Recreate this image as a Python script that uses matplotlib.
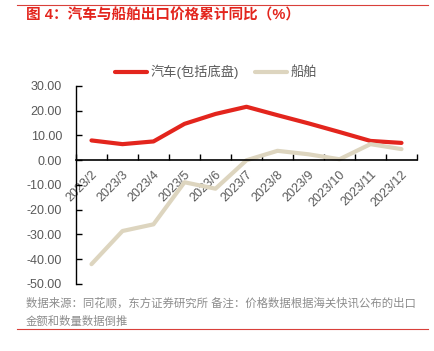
import matplotlib.pyplot as plt
from matplotlib.lines import Line2D

plt.rcParams['font.family'] = ['Liberation Sans', 'Noto Sans CJK SC']
plt.rcParams['axes.unicode_minus'] = False

months = ['2023/2', '2023/3', '2023/4', '2023/5', '2023/6', '2023/7',
          '2023/8', '2023/9', '2023/10', '2023/11', '2023/12']
cars = [8.0, 6.5, 7.6, 14.7, 18.7, 21.6, 18.2, 14.9, 11.4, 7.8, 7.0]
ships = [-42.0, -28.6, -25.9, -8.9, -11.5, 0.0, 3.8, 2.4, 0.4, 6.5, 4.5]
yticks = [30, 20, 10, 0, -10, -20, -30, -40, -50]

red = '#E3251D'
beige = '#DDD5BF'
gray = '#595959'

fig = plt.figure(figsize=(4.35, 3.51), dpi=100)
ax = fig.add_axes([0.1747, 0.191, 0.9586 - 0.1747, 0.755 - 0.191])

# spines first: moving the spine resets the ticks
ax.spines['top'].set_visible(False)
ax.spines['right'].set_visible(False)
ax.spines['left'].set_linewidth(1)
ax.spines['bottom'].set_position(('data', 0))
ax.spines['bottom'].set_linewidth(1.2)
ax.patch.set_visible(False)

x = list(range(len(months)))
ax.plot(x, cars, color=red, linewidth=3, label='汽车(包括底盘)', solid_capstyle='round')
ax.plot(x, ships, color=beige, linewidth=3, label='船舶', solid_capstyle='round')

ax.set_xlim(-0.5, len(months) - 0.5)
ax.set_ylim(-50, 30)
ax.set_yticks(yticks)
ax.set_yticklabels(['%.2f' % v for v in yticks], fontsize=9, color=gray)

# labels at category centres, tick marks on the boundaries
ax.set_xticks(x)
ax.set_xticklabels(months, fontsize=9, color=gray, rotation=45, ha='right',
                   va='top', rotation_mode='anchor')
ax.set_xticks([i - 0.5 for i in range(len(months) + 1)], minor=True)
ax.tick_params(axis='x', which='major', length=0, pad=6)
ax.tick_params(axis='x', which='minor', direction='in', length=4, width=1)
ax.tick_params(axis='y', direction='in', length=4, width=1, pad=10)

fig.legend(loc='center', bbox_to_anchor=(0.497, 0.795), ncol=2, frameon=False,
           fontsize=9.5, handlelength=2.4, columnspacing=1.2, handletextpad=0.3,
           labelcolor=gray)

fig.text(0.06, 0.955, '图 4：汽车与船舶出口价格累计同比（%）', fontsize=10.5,
         fontweight='bold', color=red, va='center')
fig.text(0.06, 0.137, '数据来源：同花顺，东方证券研究所 备注：价格数据根据海关快讯公布的出口',
         fontsize=8.2, color='#8C8C8C', va='center')
fig.text(0.06, 0.086, '金额和数量数据倒推', fontsize=8.2, color='#8C8C8C', va='center')

fig.add_artist(Line2D([0.039, 0.984], [0.986, 0.986], color='#D9403A', linewidth=0.8))
fig.add_artist(Line2D([0.039, 0.984], [0.0627, 0.0627], color='#D9403A', linewidth=0.8))

fig.savefig('out.png', dpi=100)
